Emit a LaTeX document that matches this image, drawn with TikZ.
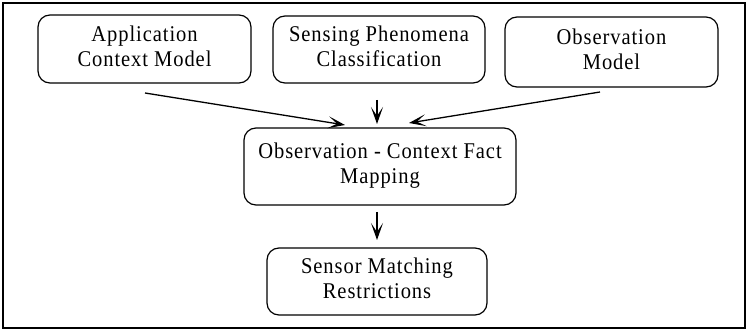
\documentclass[tikz,border=0pt]{standalone}
\usepackage{fontspec}
\setmainfont{Liberation Serif}[LetterSpace=4.5]
\usetikzlibrary{arrows.meta}
\newcommand{\boxtext}[1]{\scalebox{0.913}[1]{\begin{tabular}{@{}c@{}}#1\end{tabular}}}
\begin{document}
\begin{tikzpicture}[x=1pt,y=-1pt,
  box/.style={draw,rounded corners=12pt,line width=1.2pt,align=center,inner sep=0pt,
    font=\fontsize{22.5}{25}\selectfont},
  arr/.style={line width=1.3pt,-{Stealth[length=17pt,width=12pt,inset=9pt]}}]
\useasboundingbox (0,0) rectangle (748,331);
\draw[line width=1.5pt] (3,3) rectangle (745,328);
\node[box,minimum width=213pt,minimum height=68pt] (app) at (144.5,49) {\boxtext{Application\\Context Model}};
\node[box,minimum width=212pt,minimum height=67pt] (sens) at (379,49.5) {\boxtext{Sensing Phenomena\\Classification}};
\node[box,minimum width=213pt,minimum height=70pt] (obs) at (611.5,52) {\boxtext{Observation\\Model}};
\node[box,minimum width=272pt,minimum height=77pt] (map) at (380,166.5) {\boxtext{Observation - Context Fact\\Mapping}};
\node[box,minimum width=220pt,minimum height=67pt] (sen) at (377,281.5) {\boxtext{Sensor Matching\\Restrictions}};
\coordinate (a1) at (145,93);
\coordinate (a2) at (345,125);
\coordinate (b1) at (377,100);
\coordinate (b2) at (377,124);
\coordinate (c1) at (600,92);
\coordinate (c2) at (409,123);
\coordinate (d1) at (377,212);
\coordinate (d2) at (377,240);
\draw[arr] (a1) -- (a2);
\draw[arr] (b1) -- (b2);
\draw[arr] (c1) -- (c2);
\draw[arr] (d1) -- (d2);
\end{tikzpicture}
\end{document}
